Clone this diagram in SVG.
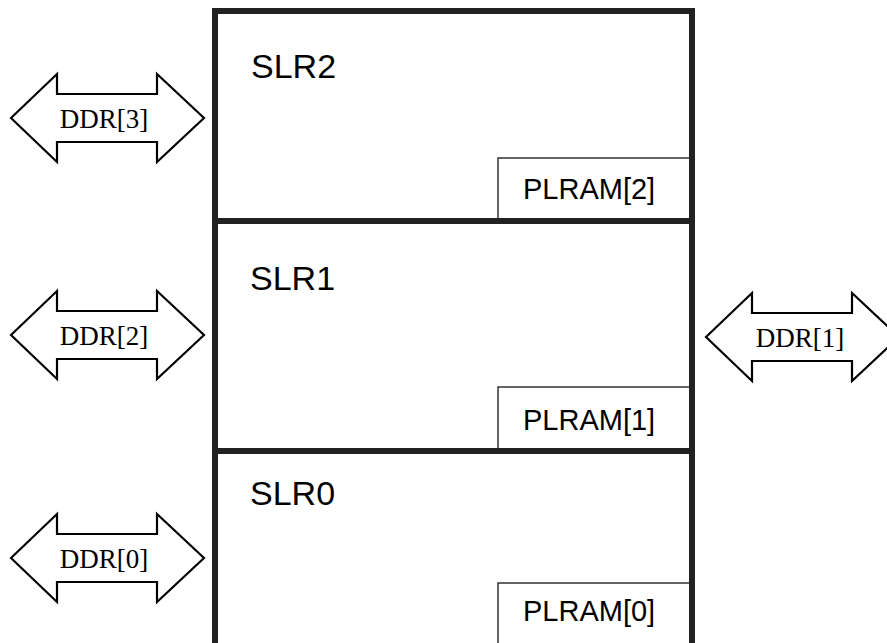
<svg xmlns="http://www.w3.org/2000/svg" width="887" height="643" viewBox="0 0 887 643">
<style>
.bg{fill:#ffffff}
.frame{fill:none;stroke:#222222;stroke-width:6}
.div{stroke:#222222;stroke-width:6}
.pl{fill:#ffffff;stroke:#333333;stroke-width:1.5}
.slr{font-family:"Liberation Sans",Arial,sans-serif;font-size:34px;fill:#000000}
.plt{font-family:"Liberation Sans",Arial,sans-serif;font-size:29px;fill:#000000}
.arr{fill:#ffffff;stroke:#000000;stroke-width:2.2;stroke-linejoin:miter}
.ddr{font-family:"Liberation Serif","Times New Roman",serif;font-size:27px;fill:#000000;text-anchor:middle}
</style>
<rect class="bg" x="0" y="0" width="887" height="643"/>
<defs>
<polygon id="dbl" points="0,0 46,-44 46,-24 146,-24 146,-44 193,0 146,44 146,24 46,24 46,44"/>
</defs>

<g id="SLR2">
  <text class="slr" x="251" y="78">SLR2</text>
</g>
<g id="PLRAM2">
  <rect class="pl" x="498" y="158" width="194" height="63"/>
  <text class="plt" x="523" y="199">PLRAM[2]</text>
</g>
<g id="SLR1">
  <text class="slr" x="250" y="290">SLR1</text>
</g>
<g id="PLRAM1">
  <rect class="pl" x="498" y="387" width="194" height="64"/>
  <text class="plt" x="523" y="430">PLRAM[1]</text>
</g>
<g id="SLR0">
  <text class="slr" x="250" y="505">SLR0</text>
</g>
<g id="PLRAM0">
  <rect class="pl" x="498" y="583" width="194" height="80"/>
  <text class="plt" x="523" y="621">PLRAM[0]</text>
</g>

<g id="FPGA">
  <rect class="frame" x="215" y="11" width="477" height="700"/>
  <line class="div" x1="215" y1="221" x2="692" y2="221"/>
  <line class="div" x1="215" y1="451" x2="692" y2="451"/>
</g>

<g id="connectors">
  <g id="DDR3">
    <use href="#dbl" class="arr" transform="translate(11,118)"/>
    <text class="ddr" x="104" y="128">DDR[3]</text>
  </g>
  <g id="DDR2">
    <use href="#dbl" class="arr" transform="translate(11,335)"/>
    <text class="ddr" x="104" y="345">DDR[2]</text>
  </g>
  <g id="DDR0">
    <use href="#dbl" class="arr" transform="translate(11,558)"/>
    <text class="ddr" x="104" y="568">DDR[0]</text>
  </g>
  <g id="DDR1">
    <use href="#dbl" class="arr" transform="translate(706,337)"/>
    <text class="ddr" x="800" y="347">DDR[1]</text>
  </g>
</g>
</svg>
